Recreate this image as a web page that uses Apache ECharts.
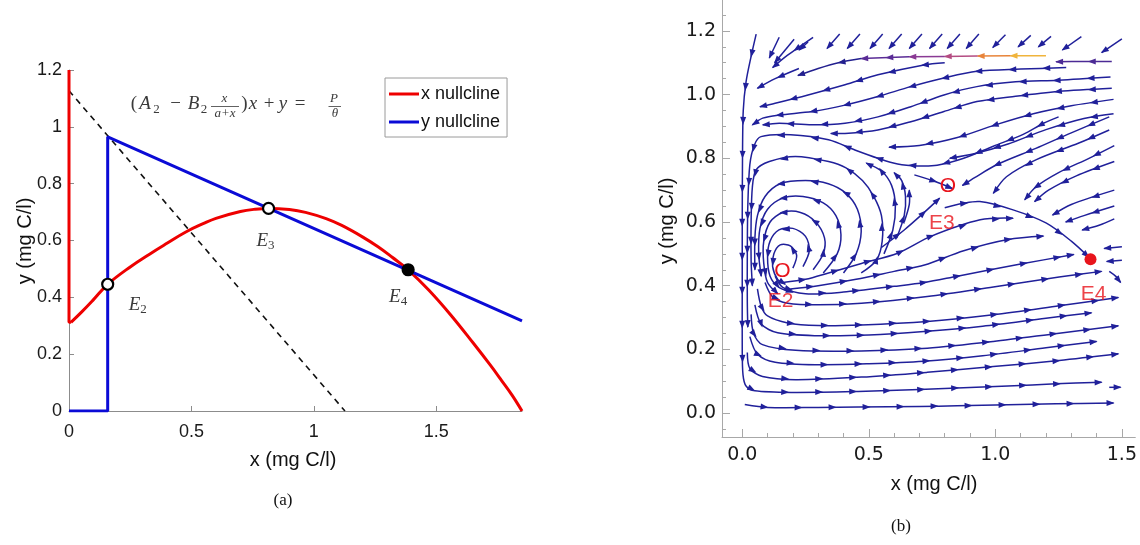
<!DOCTYPE html>
<html><head><meta charset="utf-8">
<script src="https://cdn.jsdelivr.net/npm/echarts@6/dist/echarts.min.js"></script>
<style>html,body{margin:0;padding:0;background:#fff}#c{width:1140px;height:545px}</style>
</head><body><div id="c"></div>
<script>
// ---------- Panel (a) data ----------
const leftXTicks = [0, 0.5, 1, 1.5];
const leftYTicks = [0, 0.2, 0.4, 0.6, 0.8, 1, 1.2];
const xNullclineBranch = [[0,1.2],[0,0.312],[0.008,0.312]];
const xNullcline = [[0.008,0.312],[0.05,0.347],[0.1,0.392],[0.158,0.446],[0.25,0.507],[0.329,0.552],[0.4,0.59],[0.477,0.63],[0.55,0.66],[0.6,0.678],[0.7,0.702],[0.76,0.71],[0.815,0.713],[0.9,0.709],[0.966,0.699],[1.05,0.677],[1.114,0.653],[1.2,0.612],[1.262,0.578],[1.32,0.541],[1.385,0.497],[1.47,0.425],[1.559,0.338],[1.65,0.24],[1.72,0.162],[1.766,0.108],[1.81,0.055],[1.85,0]];
const yNullcline = [[0,0],[0.158,0],[0.158,0.965],[1.85,0.317]];
const dashedLine = [[0,1.127],[1.127,0]];
const leftEqPoints = [[0.158,0.446],[0.815,0.713],[1.385,0.497]];
const leftEqNames = ['2','3','4'];
const leftEqStable = [false,false,true];

// ---------- Panel (b) data ----------
const rightXMajor = [0, 0.5, 1, 1.5];
const rightXMinor = [0.1,0.2,0.3,0.4,0.6,0.7,0.8,0.9,1.1,1.2,1.3,1.4];
const rightYMajor = [0, 0.2, 0.4, 0.6, 0.8, 1, 1.2];
const rightYMinor = [-0.05,0.05,0.1,0.15,0.25,0.3,0.35,0.45,0.5,0.55,0.65,0.7,0.75,0.85,0.9,0.95,1.05,1.1,1.15,1.25];
const rightEqPoints = [[0.159,0.445],[0.8125,0.712],[1.376,0.483]];
const rightEqNames = ['E2','E3','E4'];
const rightEqStable = [false,false,true];

const bottomFlow = [
 [[0.01,0.027],[0.1,0.018],[0.3,0.018],[0.458,0.019],[0.7,0.021],[0.849,0.023],[1.05,0.026],[1.24,0.029],[1.467,0.032]],
 [[0.055,1.19],[0.035,1.12],[0.015,1.04],[0.004,0.95],[0.001,0.8],[0,0.6],[0,0.4],[0,0.2],[0.003,0.12],[0.015,0.085],[0.05,0.07],[0.2,0.065],[0.458,0.068],[0.7,0.074],[0.849,0.079],[1.05,0.085],[1.24,0.092],[1.42,0.097]],
 [[1.45,0.081],[1.495,0.081]],
 [[0.02,0.19],[0.03,0.14],[0.08,0.115],[0.211,0.105],[0.471,0.113],[0.731,0.128],[0.992,0.146],[1.252,0.165],[1.486,0.186]],
 [[0.03,0.24],[0.06,0.185],[0.13,0.16],[0.3,0.152],[0.5,0.155],[0.718,0.163],[0.95,0.18],[1.2,0.205],[1.4,0.225]],
 [[0.035,0.31],[0.045,0.25],[0.08,0.215],[0.211,0.197],[0.471,0.195],[0.731,0.204],[0.992,0.225],[1.252,0.251],[1.486,0.274]],
 [[0.05,0.34],[0.075,0.28],[0.14,0.252],[0.3,0.243],[0.5,0.245],[0.718,0.256],[0.95,0.273],[1.2,0.298],[1.38,0.315]],
 [[0.06,0.39],[0.075,0.335],[0.1,0.305],[0.18,0.283],[0.3,0.275],[0.471,0.277],[0.731,0.288],[0.992,0.309],[1.252,0.337],[1.486,0.363]],
 [[0.09,0.41],[0.12,0.365],[0.18,0.345],[0.3,0.34],[0.471,0.345],[0.731,0.366],[0.992,0.396],[1.252,0.427],[1.42,0.445]],
 [[1.45,0.445],[1.475,0.43],[1.495,0.41]],
 [[0.13,0.43],[0.16,0.395],[0.25,0.375],[0.4,0.38],[0.6,0.398],[0.72,0.41],[0.85,0.43],[1.1,0.468],[1.31,0.498]],
 [[0.19,0.39],[0.3,0.4],[0.45,0.42],[0.6,0.445],[0.72,0.465],[0.875,0.51],[1.05,0.545],[1.19,0.556]],
 [[0.16,0.41],[0.25,0.42],[0.341,0.44],[0.471,0.47],[0.614,0.502],[0.745,0.555],[0.94,0.607],[1.07,0.612]]
];
const loopFlow = [
 [[1.25,0.93],[1.19,0.91],[1.11,0.875],[0.992,0.838],[0.875,0.8],[0.77,0.778],[0.693,0.776],[0.614,0.782],[0.536,0.8],[0.445,0.826],[0.341,0.858],[0.191,0.874],[0.074,0.868],[0.048,0.842],[0.03,0.78],[0.022,0.65],[0.02,0.5],[0.02,0.35],[0.022,0.27]],
 [[0.47,0.44],[0.53,0.48],[0.553,0.54],[0.55,0.62],[0.52,0.68],[0.475,0.73],[0.41,0.77],[0.341,0.79],[0.21,0.806],[0.107,0.79],[0.055,0.764],[0.04,0.71],[0.035,0.6],[0.035,0.48],[0.04,0.4]],
 [[0.4,0.44],[0.45,0.5],[0.47,0.57],[0.455,0.64],[0.41,0.69],[0.34,0.72],[0.25,0.73],[0.15,0.72],[0.09,0.68],[0.06,0.62],[0.05,0.55],[0.05,0.45]],
 [[0.32,0.44],[0.375,0.5],[0.39,0.56],[0.37,0.62],[0.32,0.66],[0.24,0.68],[0.16,0.675],[0.1,0.64],[0.07,0.58],[0.065,0.5],[0.075,0.43]],
 [[0.28,0.45],[0.32,0.5],[0.325,0.55],[0.29,0.6],[0.23,0.63],[0.16,0.63],[0.11,0.6],[0.085,0.54],[0.085,0.47],[0.1,0.41],[0.14,0.375]],
 [[0.24,0.46],[0.265,0.51],[0.25,0.555],[0.2,0.58],[0.145,0.575],[0.11,0.54],[0.1,0.49],[0.11,0.43],[0.145,0.395],[0.2,0.38]],
 [[0.2,0.455],[0.215,0.495],[0.19,0.525],[0.15,0.528],[0.125,0.5],[0.12,0.46],[0.14,0.42],[0.17,0.405]],
 [[0.56,0.5],[0.595,0.575],[0.605,0.65],[0.59,0.715],[0.55,0.76],[0.49,0.785]],
 [[0.61,0.55],[0.64,0.62],[0.645,0.68],[0.63,0.73],[0.6,0.755]],
 [[0.64,0.6],[0.66,0.655],[0.66,0.7]]
];
const saddleFlow = [
 [[0.68,0.748],[0.76,0.728],[0.83,0.705]],
 [[0.55,0.52],[0.64,0.575],[0.712,0.625],[0.78,0.675]],
 [[1.45,0.93],[1.3,0.88],[1.16,0.831],[1.003,0.779],[0.92,0.74],[0.87,0.715]],
 [[0.8,0.645],[0.87,0.658],[0.939,0.664],[1.07,0.638],[1.2,0.597],[1.3,0.54],[1.369,0.49]],
 [[1.45,0.889],[1.33,0.848],[1.16,0.795],[1.044,0.742],[0.992,0.69]],
 [[1.47,0.84],[1.37,0.8],[1.25,0.755],[1.16,0.71],[1.116,0.67]],
 [[1.47,0.79],[1.32,0.745],[1.21,0.7],[1.155,0.664]],
 [[1.47,0.7],[1.3,0.655],[1.226,0.622]],
 [[1.47,0.65],[1.35,0.62],[1.278,0.6]],
 [[1.47,0.61],[1.41,0.59],[1.343,0.575]],
 [[1.5,0.522],[1.43,0.517]],
 [[1.5,0.48],[1.44,0.476]]
];
const upperFlow = [
 [[0.8,1.1],[0.718,1.093],[0.536,1.062],[0.406,1.031],[0.26,0.999],[0.13,0.973],[0.07,0.962]],
 [[1.28,1.085],[1.1,1.08],[0.927,1.073],[0.797,1.052],[0.666,1.025],[0.536,0.994],[0.406,0.967],[0.276,0.947],[0.146,0.936],[0.081,0.926],[0.04,0.905]],
 [[1.455,1.055],[1.25,1.045],[1.08,1.04],[0.927,1.025],[0.797,0.999],[0.666,0.962],[0.536,0.93],[0.406,0.91],[0.276,0.905],[0.146,0.91],[0.081,0.905]],
 [[1.46,1.02],[1.25,1.01],[1.08,0.995],[0.927,0.978],[0.797,0.947],[0.666,0.915],[0.536,0.889],[0.406,0.878],[0.35,0.878]],
 [[1.467,0.985],[1.3,0.965],[1.15,0.94],[1.0,0.905],[0.85,0.865],[0.7,0.84],[0.58,0.835]],
 [[1.467,0.94],[1.35,0.925],[1.2,0.89],[1.05,0.845],[0.92,0.815],[0.82,0.8]],
 [[0.146,1.18],[0.107,1.115]],
 [[0.205,1.174],[0.128,1.1]],
 [[0.28,1.18],[0.178,1.123],[0.12,1.085]],
 [[0.224,1.082],[0.13,1.05],[0.06,1.02]],
 [[0.26,1.165],[0.225,1.14]],
 [[0.385,1.19],[0.335,1.145]],
 [[0.465,1.19],[0.415,1.145]],
 [[0.555,1.19],[0.505,1.145]],
 [[0.63,1.19],[0.58,1.145]],
 [[0.71,1.19],[0.66,1.145]],
 [[0.79,1.19],[0.74,1.145]],
 [[0.86,1.19],[0.81,1.145]],
 [[0.935,1.19],[0.885,1.145]],
 [[1.04,1.188],[0.99,1.148]],
 [[1.14,1.186],[1.09,1.15]],
 [[1.22,1.183],[1.17,1.15]],
 [[1.34,1.182],[1.265,1.14]],
 [[1.5,1.175],[1.42,1.132]]
];
const speedFlow = [
 [[1.2,1.122],[1.06,1.122]],
 [[1.06,1.122],[0.93,1.121]],
 [[0.93,1.121],[0.8,1.12]],
 [[0.8,1.12],[0.66,1.119]],
 [[0.66,1.119],[0.47,1.113]],
 [[0.47,1.113],[0.38,1.1],[0.3,1.082],[0.22,1.06]],
 [[1.46,1.104],[1.35,1.104],[1.24,1.103]]
];
const speedColors = ['#f0b43c','#e8843a','#b44c82','#8a3a94','#5a2c96','#23208f','#4b2a95'];

// ---------- rendering helpers ----------
const NAVY = '#20209a';
function arrowHead(px, py, ux, uy, color) {
  const L = 4, W = 3;
  return {type:'polygon', silent:true,
    shape:{points:[[px+ux*L, py+uy*L],[px-ux*L-uy*W, py-uy*L+ux*W],[px-ux*L+uy*W, py-uy*L-ux*W]]},
    style:{fill:color}};
}
function streamRender(lines, colors) {
  return function (params, api) {
    const pts = lines[params.dataIndex].map(p => api.coord(p));
    const color = (colors && colors[params.dataIndex]) || NAVY;
    const children = [{type:'polyline', silent:true, shape:{points:pts, smooth:0.3},
      style:{stroke:color, lineWidth:1.5, fill:null}}];
    let total = 0;
    for (let i = 1; i < pts.length; i++) total += Math.hypot(pts[i][0]-pts[i-1][0], pts[i][1]-pts[i-1][1]);
    let acc = 0, next = 20;
    const step = 34;
    for (let i = 1; i < pts.length; i++) {
      const [x0,y0] = pts[i-1], [x1,y1] = pts[i];
      const L = Math.hypot(x1-x0, y1-y0);
      if (!L) continue;
      const ux = (x1-x0)/L, uy = (y1-y0)/L;
      while (next <= acc + L && next < total - 16) {
        const t = next - acc;
        children.push(arrowHead(x0+ux*t, y0+uy*t, ux, uy, color));
        next += step;
      }
      acc += L;
    }
    const n = pts.length;
    const ex = pts[n-1][0]-pts[n-2][0], ey = pts[n-1][1]-pts[n-2][1];
    const el = Math.hypot(ex, ey) || 1;
    children.push(arrowHead(pts[n-1][0]-ex/el*3, pts[n-1][1]-ey/el*3, ex/el, ey/el, color));
    return {type:'group', children};
  };
}
function streamSeries(lines, colors) {
  return {type:'custom', xAxisIndex:1, yAxisIndex:1, clip:true, silent:true,
    renderItem: streamRender(lines, colors), data: lines.map(l => l[0]), z:2};
}

const SANS = 'Liberation Sans';
const SERIF = 'Liberation Serif';
const RED = '#ee0000', BLUE = '#0b0bd6';
const axisGrey = '#8c8c8c';

function t(x, y, text, size, italic) {
  return {type:'text', x, y, silent:true, style:{text, fontSize:size, fontFamily:SERIF,
    fontStyle: italic ? 'italic' : 'normal', fill:'#3a3a3a', align:'center', verticalAlign:'middle'}};
}
const eqGraphics = [
  t(134,104,'(',19,false), t(145,104,'A',19,true), t(156.5,110,'2',13,false),
  t(175.5,104,'−',19,false), t(193.5,104,'B',19,true), t(204,110,'2',13,false),
  t(224.5,99,'x',13,true), t(225,114,'a+x',13,true),
  {type:'line', silent:true, shape:{x1:211,y1:106.5,x2:239,y2:106.5}, style:{stroke:'#3a3a3a', lineWidth:0.8}},
  t(244.5,104,')',19,false), t(253,104,'x',19,true), t(269,104,'+',19,false), t(283,104,'y',19,true), t(300,104,'=',19,false),
  t(334,99,'P',13,true), t(335,114,'θ',13,true),
  {type:'line', silent:true, shape:{x1:328.5,y1:106.5,x2:341,y2:106.5}, style:{stroke:'#3a3a3a', lineWidth:0.8}}
];
function plain(x, y, text, size, family, rot) {
  return {type:'text', x, y, rotation: rot||0, silent:true,
    style:{text, fontSize:size, fontFamily:family, fill:'#111', align:'center', verticalAlign:'middle'}};
}

const option = {
  animation:false,
  backgroundColor:'#fff',
  grid:[{left:69, top:70, width:453, height:341}, {left:722, top:0, width:418, height:437}],
  xAxis:[
    {type:'value', gridIndex:0, min:0, max:1.85, position:'bottom',
     axisLine:{onZero:false, lineStyle:{color:axisGrey}},
     axisTick:{inside:true, length:5, customValues:leftXTicks, lineStyle:{color:axisGrey}},
     axisLabel:{customValues:leftXTicks, fontSize:18, fontFamily:SANS, color:'#1a1a1a', margin:12},
     splitLine:{show:false}},
    {type:'value', gridIndex:1, min:-0.08, max:1.553, position:'bottom',
     axisLine:{onZero:false, lineStyle:{color:'#a8a8a8'}},
     axisTick:{inside:true, length:8, customValues:rightXMajor, lineStyle:{color:'#a8a8a8'}},
     axisLabel:{customValues:rightXMajor, fontSize:19, fontFamily:'DejaVu Sans', color:'#1a1a1a', margin:9,
       formatter: v => v.toFixed(1)},
     splitLine:{show:false}},
    {type:'value', gridIndex:1, min:-0.08, max:1.553, position:'bottom',
     axisLine:{show:false, onZero:false},
     axisTick:{inside:true, length:4, customValues:rightXMinor, lineStyle:{color:'#a8a8a8'}},
     axisLabel:{show:false}, splitLine:{show:false}}
  ],
  yAxis:[
    {type:'value', gridIndex:0, min:0, max:1.2, position:'left',
     axisLine:{show:true, onZero:false, lineStyle:{color:axisGrey}},
     axisTick:{show:true, inside:true, length:5, customValues:leftYTicks, lineStyle:{color:axisGrey}},
     axisLabel:{customValues:leftYTicks, fontSize:18, fontFamily:SANS, color:'#1a1a1a', margin:7},
     splitLine:{show:false}},
    {type:'value', gridIndex:1, min:-0.075, max:1.297, position:'left',
     axisLine:{show:true, onZero:false, lineStyle:{color:'#a8a8a8'}},
     axisTick:{show:true, inside:true, length:8, customValues:rightYMajor, lineStyle:{color:'#a8a8a8'}},
     axisLabel:{customValues:rightYMajor, fontSize:19, fontFamily:'DejaVu Sans', color:'#1a1a1a', margin:6,
       formatter: v => v.toFixed(1)},
     splitLine:{show:false}},
    {type:'value', gridIndex:1, min:-0.075, max:1.297, position:'left',
     axisLine:{show:false, onZero:false},
     axisTick:{show:true, inside:true, length:4, customValues:rightYMinor, lineStyle:{color:'#a8a8a8'}},
     axisLabel:{show:false}, splitLine:{show:false}}
  ],
  legend:{data:[{name:'x nullcline', icon:'rect'},{name:'y nullcline', icon:'rect'}],
    orient:'vertical', left:385, top:78,
    itemWidth:30, itemHeight:3, itemGap:10, padding:[7,7,6,4],
    borderColor:'#9a9a9a', borderWidth:1, backgroundColor:'#fff',
    textStyle:{fontSize:18, fontFamily:SANS, color:'#111', padding:[0,0,0,-3]}},
  graphic: eqGraphics.concat([
    plain(25,241,'y (mg C/l)',20,SANS,Math.PI/2),
    plain(293,460,'x (mg C/l)',20,SANS),
    plain(283,501,'(a)',17,SERIF),
    plain(667,221,'y (mg C/l)',20,SANS,Math.PI/2),
    plain(934,484,'x (mg C/l)',20,SANS),
    plain(901,527,'(b)',17,SERIF)
  ]),
  series:[
    {name:'x nullcline', type:'line', xAxisIndex:0, yAxisIndex:0, data:xNullclineBranch, symbol:'none',
     lineStyle:{color:RED, width:3}, itemStyle:{color:RED}, z:3},
    {name:'x nullcline', type:'line', xAxisIndex:0, yAxisIndex:0, data:xNullcline, symbol:'none', smooth:0.4,
     lineStyle:{color:RED, width:3}, itemStyle:{color:RED}, z:3},
    {name:'y nullcline', type:'line', xAxisIndex:0, yAxisIndex:0, data:yNullcline, symbol:'none',
     lineStyle:{color:BLUE, width:3}, itemStyle:{color:BLUE}, z:4},
    {name:'dashed', type:'line', xAxisIndex:0, yAxisIndex:0, data:dashedLine, symbol:'none',
     lineStyle:{color:'#111', width:1.6, type:[6,5]}, z:2},
    {name:'eqLeft', type:'scatter', xAxisIndex:0, yAxisIndex:0, z:6,
     data: leftEqPoints.map((p,i) => ({value:p,
       itemStyle:{color: leftEqStable[i] ? '#000' : '#fff', borderColor:'#000', borderWidth:2.2, opacity:1},
       label:{show:true, formatter:'{e|E}{s|' + leftEqNames[i] + '}',
         offset: [[30,21],[-3,33],[-10,27]][i]}})),
     symbolSize:11,
     label:{position:'inside', rich:{e:{fontFamily:SERIF, fontStyle:'italic', fontSize:19, color:'#3a3a3a'},
       s:{fontFamily:SERIF, fontSize:13, color:'#3a3a3a', padding:[9,0,0,0]}}}},
    streamSeries(bottomFlow),
    streamSeries(loopFlow),
    streamSeries(saddleFlow),
    streamSeries(upperFlow),
    streamSeries(speedFlow, speedColors),
    {name:'eqRight', type:'scatter', xAxisIndex:1, yAxisIndex:1, z:8,
     data: rightEqPoints.map((p,i) => ({value:p,
       symbol:'circle', symbolSize: rightEqStable[i] ? 12 : 0,
       itemStyle:{color:'#e8141c', opacity:1},
       label:{show:true, position:'inside', formatter: rightEqStable[i] ? '' : 'O',
         fontSize:21, fontFamily:SANS, color:'#e8141c'}}))},
    {name:'eqRightNames', type:'scatter', xAxisIndex:1, yAxisIndex:1, z:8, symbolSize:0,
     data: rightEqPoints.map((p,i) => ({value:p,
       label:{show:true, position:'inside', formatter: rightEqNames[i],
         offset: [[-2,30],[-6,37],[3,35]][i],
         fontSize:21, fontFamily:SANS, color:'#e8141c'}}))}
  ]
};
const chart = echarts.init(document.getElementById('c'), null, {renderer:'canvas'});
chart.setOption(option);
</script></body></html>
